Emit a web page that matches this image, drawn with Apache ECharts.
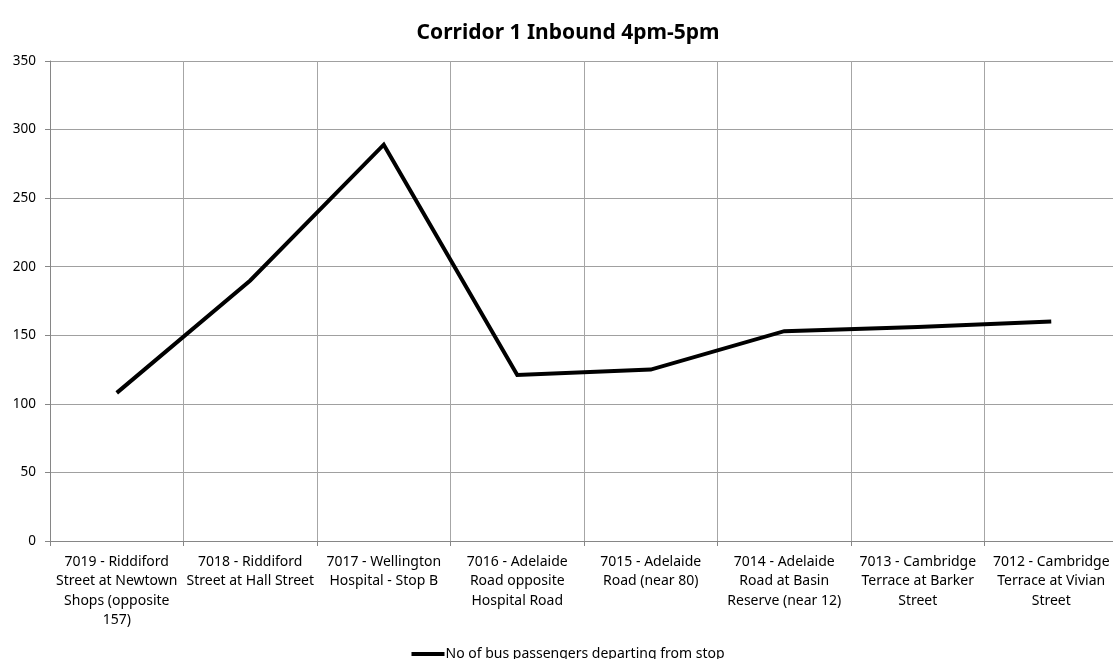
<!DOCTYPE html>
<html>
<head>
<meta charset="utf-8">
<script src="https://cdn.jsdelivr.net/npm/echarts@6/dist/echarts.min.js"></script>
<style>
  html, body { margin: 0; padding: 0; background: #fff; overflow: hidden; }
  #chart { width: 1136px; height: 659px; }
</style>
</head>
<body>
<div id="chart"></div>
<script>
// stop names as they wrap under the axis
const stops = [
  '7019 - Riddiford\nStreet at Newtown\nShops (opposite\n157)',
  '7018 - Riddiford\nStreet at Hall Street',
  '7017 - Wellington\nHospital - Stop B',
  '7016 - Adelaide\nRoad opposite\nHospital Road',
  '7015 - Adelaide\nRoad (near 80)',
  '7014 - Adelaide\nRoad at Basin\nReserve (near 12)',
  '7013 - Cambridge\nTerrace at Barker\nStreet',
  '7012 - Cambridge\nTerrace at Vivian\nStreet'
];
const departing = [108, 190, 289, 121, 125, 153, 156, 160];

const font = "'Noto Sans', 'Open Sans', sans-serif";
const chart = echarts.init(document.getElementById('chart'));

chart.setOption({
  animation: false,
  title: {
    text: 'Corridor 1 Inbound 4pm-5pm',
    left: 'center',
    top: 18,
    textStyle: { fontFamily: font, fontSize: 21, fontWeight: 'bold', color: '#000' }
  },
  legend: {
    bottom: -7,
    left: 'center',
    icon: 'rect',
    itemWidth: 33,
    itemHeight: 4,
    itemGap: 4,
    textStyle: { fontFamily: font, fontSize: 14, color: '#000', padding: [0, 0, 0, -4] },
    data: ['No of bus passengers departing from stop']
  },
  grid: { left: 50, top: 61, right: 18, height: 480 },
  xAxis: {
    type: 'category',
    data: stops,
    boundaryGap: true,
    axisLine: { lineStyle: { color: '#868686', width: 1 } },
    axisTick: { show: true, length: 5, lineStyle: { color: '#868686' } },
    axisLabel: {
      interval: 0,
      margin: 11,
      fontFamily: font,
      fontSize: 14,
      lineHeight: 19.5,
      color: '#000'
    },
    splitLine: { show: true, lineStyle: { color: '#a6a6a6', width: 1 } }
  },
  yAxis: {
    type: 'value',
    min: 0,
    max: 350,
    interval: 50,
    axisLine: { show: true, lineStyle: { color: '#868686', width: 1 } },
    axisTick: { show: true, length: 5, lineStyle: { color: '#868686' } },
    axisLabel: { fontFamily: font, fontSize: 13.5, color: '#000', margin: 14 },
    splitLine: { show: true, lineStyle: { color: '#a0a0a0', width: 1 } }
  },
  series: [{
    name: 'No of bus passengers departing from stop',
    type: 'line',
    data: departing,
    symbol: 'none',
    itemStyle: { color: '#000' },
    lineStyle: { color: '#000', width: 4, join: 'miter' }
  }]
});
</script>
</body>
</html>
